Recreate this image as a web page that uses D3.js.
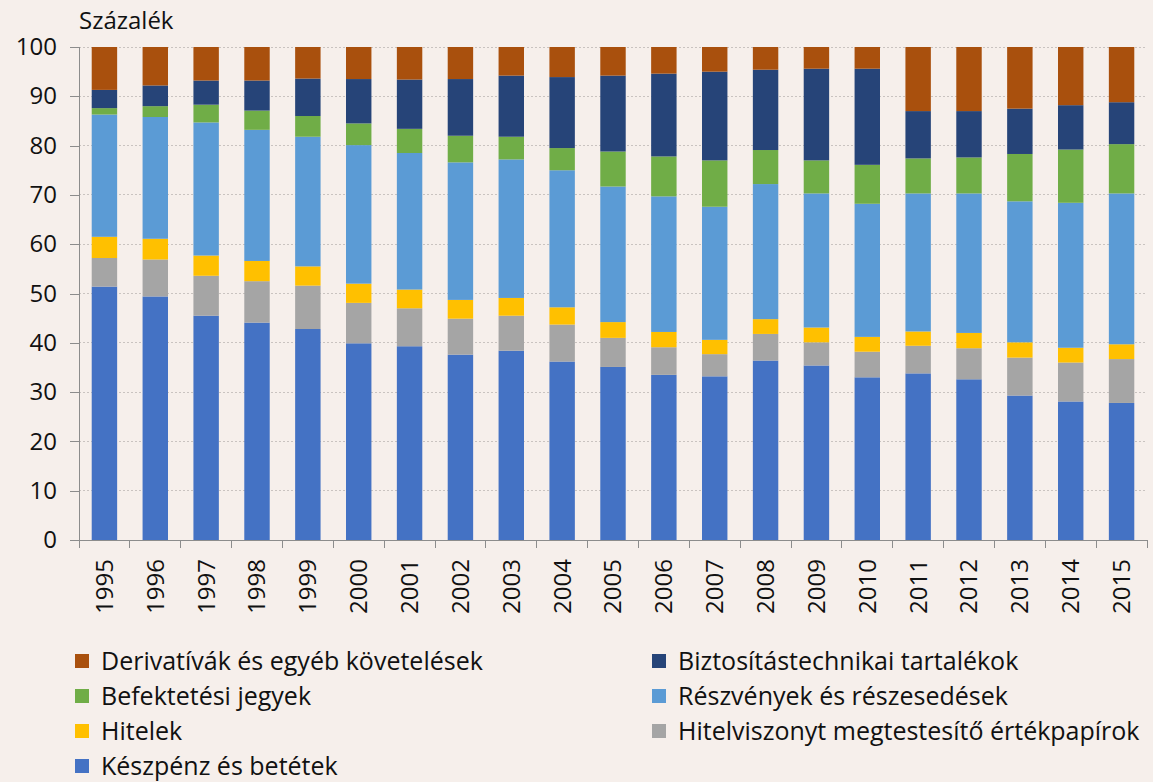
<!DOCTYPE html>
<html>
<meta charset="utf-8">
<style>
body {
  margin: 0;
  background: #f6efeb;
  font-family: "Open Sans", sans-serif;
}

.axis path,
.axis line {
  fill: none;
  stroke: #8c8c8c;
  shape-rendering: crispEdges;
}

.axis text {
  font-family: "Open Sans", sans-serif;
  font-size: 24px;
  fill: #111;
}

.grid line {
  stroke: #c9c3c0;
  stroke-dasharray: 2,2;
  shape-rendering: crispEdges;
}

.legend text {
  font-size: 25px;
  fill: #111;
}
</style>
<body>
<script src="https://d3js.org/d3.v7.min.js"></script>

<script>
// years on the x axis
var years = ["1995","1996","1997","1998","1999","2000","2001","2002","2003","2004",
  "2005","2006","2007","2008","2009","2010","2011","2012","2013","2014","2015"];

// series, bottom to top (per cent)
var keszpenz   = [51.4,49.4,45.5,44.1,42.8,39.9,39.3,37.6,38.4,36.2,35.1,33.5,33.2,36.4,35.4,33.0,33.8,32.6,29.3,28.1,27.8];
var hitelpapir = [5.8,7.5,8.1,8.4,8.8,8.2,7.7,7.3,7.1,7.5,5.9,5.6,4.5,5.4,4.7,5.2,5.6,6.3,7.7,7.9,8.9];
var hitelek    = [4.3,4.2,4.1,4.1,3.9,3.9,3.8,3.8,3.6,3.5,3.2,3.1,2.9,3.0,3.0,3.0,2.9,3.1,3.1,3.0,3.0];
var reszveny   = [24.8,24.7,27.0,26.6,26.3,28.1,27.7,27.9,28.1,27.8,27.5,27.5,27.0,27.4,27.2,27.0,28.0,28.3,28.6,29.4,30.6];
var befjegy    = [1.3,2.2,3.6,3.9,4.2,4.4,4.9,5.4,4.6,4.5,7.1,8.1,9.4,6.9,6.7,7.9,7.1,7.3,9.6,10.8,10.0];
var biztosit   = [3.7,4.2,4.9,6.1,7.6,9.0,10.0,11.5,12.4,14.4,15.4,16.8,18.0,16.3,18.6,19.5,9.6,9.4,9.2,9.0,8.5];
var derivativ  = [8.7,7.8,6.8,6.8,6.4,6.5,6.6,6.5,5.8,6.1,5.8,5.4,5.0,4.6,4.4,4.4,13.0,13.0,12.5,11.8,11.2];

var yTicks = [0,10,20,30,40,50,60,70,80,90,100];

var series = [
  {key: "kp",  name: "Készpénz és betétek", values: keszpenz, color: "#4472c4"},
  {key: "hp",  name: "Hitelviszonyt megtestesítő értékpapírok", values: hitelpapir, color: "#a5a5a5"},
  {key: "hi",  name: "Hitelek", values: hitelek, color: "#ffc000"},
  {key: "rs",  name: "Részvények és részesedések", values: reszveny, color: "#5b9bd5"},
  {key: "bj",  name: "Befektetési jegyek", values: befjegy, color: "#70ad47"},
  {key: "bt",  name: "Biztosítástechnikai tartalékok", values: biztosit, color: "#264478"},
  {key: "dv",  name: "Derivatívák és egyéb követelések", values: derivativ, color: "#a9500d"}
];

// legend order as in the original (two columns)
var legendOrder = ["dv","bt","bj","rs","hi","hp","kp"];

var margin = {top: 47, right: 6, bottom: 242, left: 79},
    width = 1153 - margin.left - margin.right,
    height = 782 - margin.top - margin.bottom;

var table = years.map(function(y, i) {
  var row = {year: y};
  series.forEach(function(s) { row[s.key] = s.values[i]; });
  return row;
});

var svg = d3.select("body").append("svg")
    .attr("width", 1153)
    .attr("height", 782)
    .style("display", "block");

var g = svg.append("g")
    .attr("transform", "translate(" + margin.left + "," + margin.top + ")");

var x = d3.scaleBand().domain(years).range([0, width]).paddingInner(0.5).paddingOuter(0.25);
var y = d3.scaleLinear().domain([0, 100]).range([height, 0]);

// gridlines
g.append("g")
    .attr("class", "grid")
  .selectAll("line")
    .data(yTicks.filter(function(d) { return d > 0; }))
  .enter().append("line")
    .attr("x1", 0)
    .attr("x2", width)
    .attr("y1", function(d) { return y(d); })
    .attr("y2", function(d) { return y(d); });

// stacked bars
var stack = d3.stack().keys(series.map(function(s) { return s.key; }));
var layers = stack(table);

g.selectAll(".layer")
    .data(layers)
  .enter().append("g")
    .attr("class", "layer")
    .attr("fill", function(d, i) { return series[i].color; })
  .selectAll("rect")
    .data(function(d) { return d; })
  .enter().append("rect")
    .attr("x", function(d) { return x(d.data.year); })
    .attr("width", x.bandwidth())
    .attr("y", function(d) { return y(d[1]); })
    .attr("height", function(d) { return y(d[0]) - y(d[1]); });

// y axis
var yAxis = g.append("g")
    .attr("class", "axis axis--y")
    .call(d3.axisLeft(y).tickValues(yTicks).tickSize(9).tickPadding(13));

// x axis, ticks at band borders
var xAxis = g.append("g")
    .attr("class", "axis axis--x")
    .attr("transform", "translate(0," + height + ")")
    .call(d3.axisBottom(x).tickSize(0).tickPadding(0));

xAxis.select(".domain").attr("d", "M-9,0.5H" + width);

var step = x.step();
xAxis.selectAll(".sep")
    .data(d3.range(years.length + 1))
  .enter().append("line")
    .attr("class", "sep")
    .attr("x1", function(i) { return i * step; })
    .attr("x2", function(i) { return i * step; })
    .attr("y1", 0)
    .attr("y2", 8);

xAxis.selectAll(".tick text")
    .attr("transform", "rotate(-90)")
    .attr("x", -19)
    .attr("y", 0)
    .attr("dy", "0.35em")
    .style("text-anchor", "end");

// unit label
svg.append("text")
    .attr("x", 79)
    .attr("y", 29)
    .style("font-size", "24px")
    .style("fill", "#111")
    .text("Százalék");

// legend
var legend = svg.append("g").attr("class", "legend");
var cols = [75, 652];

legendOrder.forEach(function(k, i) {
  var s = series.find(function(d) { return d.key === k; });
  var col = (i < 6) ? i % 2 : 0;
  var row = (i < 6) ? Math.floor(i / 2) : 3;
  var item = legend.append("g")
      .attr("transform", "translate(" + cols[col] + "," + (661 + row * 35) + ")");
  item.append("rect")
      .attr("x", 0)
      .attr("y", -7)
      .attr("width", 14)
      .attr("height", 14)
      .attr("fill", s.color);
  item.append("text")
      .attr("x", 26)
      .attr("dy", "0.35em")
      .text(s.name);
});
</script>
</body>
</html>
